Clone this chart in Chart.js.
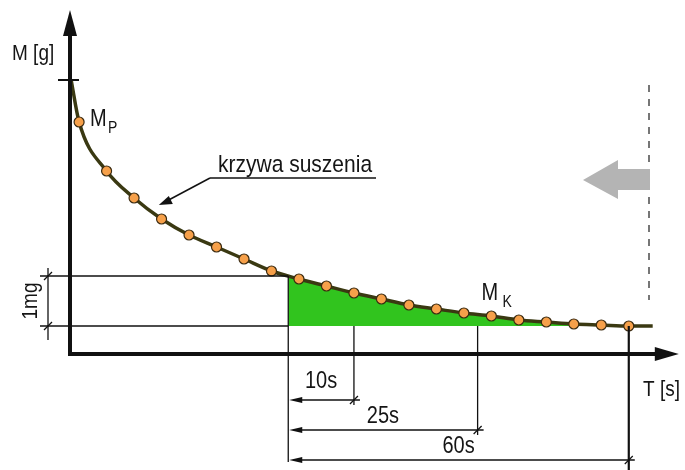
<!DOCTYPE html>
<html>
<head>
<meta charset="utf-8">
<script src="https://cdn.jsdelivr.net/npm/chart.js@4.4.1/dist/chart.umd.min.js"></script>
<style>
  html, body { margin: 0; padding: 0; background: #fff; }
  canvas { display: block; }
</style>
</head>
<body>
<canvas id="myChart" width="685" height="470"></canvas>
<script>
// measurement number (one weighing per step)
const sampleIdx = [0, 1, 2, 3, 4, 5, 6, 7, 8, 9, 10, 11, 12, 13, 14, 15, 16, 17, 18, 19, 20];
// mass above the final value, in mg
const massMg = [4.08, 3.10, 2.56, 2.14, 1.82, 1.58, 1.34, 1.10, 0.94, 0.80, 0.66,
                0.54, 0.42, 0.34, 0.26, 0.20, 0.12, 0.08, 0.04, 0.02, 0.00];

// ends of the drying curve (it starts at the tick on the M axis)
const curveStartX = -0.29;
const curveStartY = 4.92;
const curveEndX = 20.87;
const curveEndY = 0;

// 1 mg band and the time marks under it
const bandStartIdx = 7.61;
const bandTopMg = 1;
const timeMarksIdx = [10, 14.5, 20];
const timeLabels = ['10s', '25s', '60s'];

const axisLabels = ['M [g]', 'T [s]'];
const curveLabel = 'krzywa suszenia';
const bandLabel = '1mg';
const startLabel = ['M', 'P'];
const endLabel = ['M', 'K'];
const markerIdx = [0, 14.5];   // where M_P and M_K sit

function buildCurve() {
    let pts = [{x: curveStartX, y: curveStartY}];
    sampleIdx.forEach((x, i) => pts.push({x: x, y: massMg[i]}));
    pts.push({x: curveEndX, y: curveEndY});
    return pts;
}

function buildBand() {
    let pts = [{x: bandStartIdx, y: bandTopMg}];
    sampleIdx.forEach((x, i) => {
        if (x > bandStartIdx) pts.push({x: x, y: massMg[i]});
    });
    pts.push({x: curveEndX, y: curveEndY});
    return pts;
}

function txt(ctx, s, x, y, size, align) {
    ctx.save();
    ctx.translate(x, y);
    ctx.scale(1, 1.18);
    ctx.font = size + 'px "Liberation Sans", Arial, sans-serif';
    ctx.textAlign = align || 'left';
    ctx.textBaseline = 'alphabetic';
    ctx.fillStyle = '#151515';
    ctx.fillText(s, 0, 0);
    ctx.restore();
}

function line(ctx, x1, y1, x2, y2, w, color) {
    ctx.beginPath();
    ctx.moveTo(x1, y1);
    ctx.lineTo(x2, y2);
    ctx.lineWidth = w;
    ctx.strokeStyle = color || '#111';
    ctx.stroke();
}

function tri(ctx, pts, color) {
    ctx.beginPath();
    ctx.moveTo(pts[0][0], pts[0][1]);
    for (let i = 1; i < pts.length; i++) ctx.lineTo(pts[i][0], pts[i][1]);
    ctx.closePath();
    ctx.fillStyle = color || '#111';
    ctx.fill();
}

const diagram = {
    id: 'diagram',
    afterDatasetsDraw(chart) {
        const ctx = chart.ctx;
        const a = chart.chartArea;
        const X = v => chart.scales.x.getPixelForValue(v);
        const Y = v => chart.scales.y.getPixelForValue(v);
        ctx.save();
        ctx.lineCap = 'butt';

        // 1 mg band lines
        const yTop = Y(bandTopMg), yBot = Y(0), xs = X(bandStartIdx);
        line(ctx, 40, yTop, xs, yTop, 1.3);
        line(ctx, 40, yBot, xs, yBot, 1.3);
        line(ctx, 48, yTop - 8, 48, yBot + 14, 1.3);
        line(ctx, 44, yTop + 4, 52, yTop - 4, 1.2);
        line(ctx, 44, yBot + 4, 52, yBot - 4, 1.2);
        ctx.save();
        ctx.translate(37, (yTop + yBot) / 2);
        ctx.rotate(-Math.PI / 2);
        txt(ctx, bandLabel, 0, 0, 19, 'center');
        ctx.restore();

        // time dimension lines
        const rows = [a.bottom + 46, a.bottom + 76, a.bottom + 106];
        const gaps = [12, 7, 7];
        line(ctx, xs, yTop, xs, a.bottom + 108, 1.3);
        timeMarksIdx.forEach((m, i) => {
            const xm = X(m);
            const last = i === timeMarksIdx.length - 1;
            line(ctx, xm, yBot, xm, last ? 470 : rows[i] + 5, last ? 2.2 : 1.3);
            line(ctx, xs + 10, rows[i], xm + 6, rows[i], 1.3);
            tri(ctx, [[xs + 1, rows[i]], [xs + 14, rows[i] - 3], [xs + 14, rows[i] + 3]]);
            line(ctx, xm - 4, rows[i] + 4, xm + 4, rows[i] - 4, 1.2);
            txt(ctx, timeLabels[i], (xs + xm) / 2, rows[i] - gaps[i], 20, 'center');
        });

        // axes
        line(ctx, a.left, a.bottom + 2, a.left, a.top + 20, 4);
        tri(ctx, [[a.left, a.top], [a.left - 7, a.top + 26], [a.left + 7, a.top + 26]]);
        line(ctx, a.left - 2, a.bottom, a.right - 20, a.bottom, 4);
        tri(ctx, [[a.right, a.bottom], [a.right - 24, a.bottom - 7], [a.right - 24, a.bottom + 7]]);
        line(ctx, a.left - 12, Y(curveStartY), a.left + 9, Y(curveStartY), 2);
        txt(ctx, axisLabels[0], 12, 60, 19);
        txt(ctx, axisLabels[1], 643, 396, 19);

        // curve annotation
        const tipX = X(2.9), tipY = Y(2.42);
        line(ctx, 210, 178, 376, 178, 1.5);
        line(ctx, 210, 178, tipX + 8, tipY - 4, 1.5);
        tri(ctx, [[tipX, tipY], [tipX + 10, tipY - 9], [tipX + 14, tipY - 1]]);
        txt(ctx, curveLabel, 218, 172, 21);

        // M_P and M_K
        const mpX = X(markerIdx[0]) + 11, mpY = Y(massMg[0]) + 4;
        txt(ctx, startLabel[0], mpX, mpY, 20);
        txt(ctx, startLabel[1], mpX + 18, mpY + 7, 14);
        const mkX = X(markerIdx[1]) + 4, mkY = Y(0) - 26;
        txt(ctx, endLabel[0], mkX, mkY, 20);
        txt(ctx, endLabel[1], mkX + 21, mkY + 7, 14);

        // direction marker on the right
        ctx.setLineDash([7, 7]);
        line(ctx, 649, 85, 649, 300, 1.6, '#555');
        ctx.setLineDash([]);
        tri(ctx, [[583, 180], [618, 160], [618, 169], [650, 169], [650, 190], [618, 190], [618, 199]], '#b4b4b4');

        ctx.restore();
    }
};

const chartArea = document.querySelector('#myChart');
const myChart = new Chart(chartArea, {
    type: 'scatter',
    data: {
        datasets: [
            {
                label: 'band',
                data: buildBand(),
                showLine: true,
                cubicInterpolationMode: 'monotone',
                borderWidth: 0,
                pointRadius: 0,
                backgroundColor: '#31c41e',
                fill: {value: 0},
                order: 3
            },
            {
                label: 'curve',
                data: buildCurve(),
                showLine: true,
                cubicInterpolationMode: 'monotone',
                borderColor: '#3a3912',
                borderWidth: 3.5,
                pointRadius: 0,
                fill: false,
                clip: false,
                order: 2
            },
            {
                label: 'points',
                data: sampleIdx.map((x, i) => ({x: x, y: massMg[i]})),
                pointRadius: 5,
                pointBackgroundColor: '#f6a04a',
                pointBorderColor: '#3a2a10',
                pointBorderWidth: 1.2,
                clip: false,
                order: 1
            }
        ]
    },
    options: {
        responsive: false,
        animation: false,
        devicePixelRatio: 1,
        layout: { padding: { left: 70, right: 0, top: 10, bottom: 116 } },
        plugins: { legend: { display: false }, tooltip: { enabled: false } },
        scales: {
            x: { type: 'linear', min: -0.331, max: 21.82, display: false },
            y: { type: 'linear', min: -0.56, max: 6.32, display: false }
        }
    },
    plugins: [diagram]
});
</script>
</body>
</html>
